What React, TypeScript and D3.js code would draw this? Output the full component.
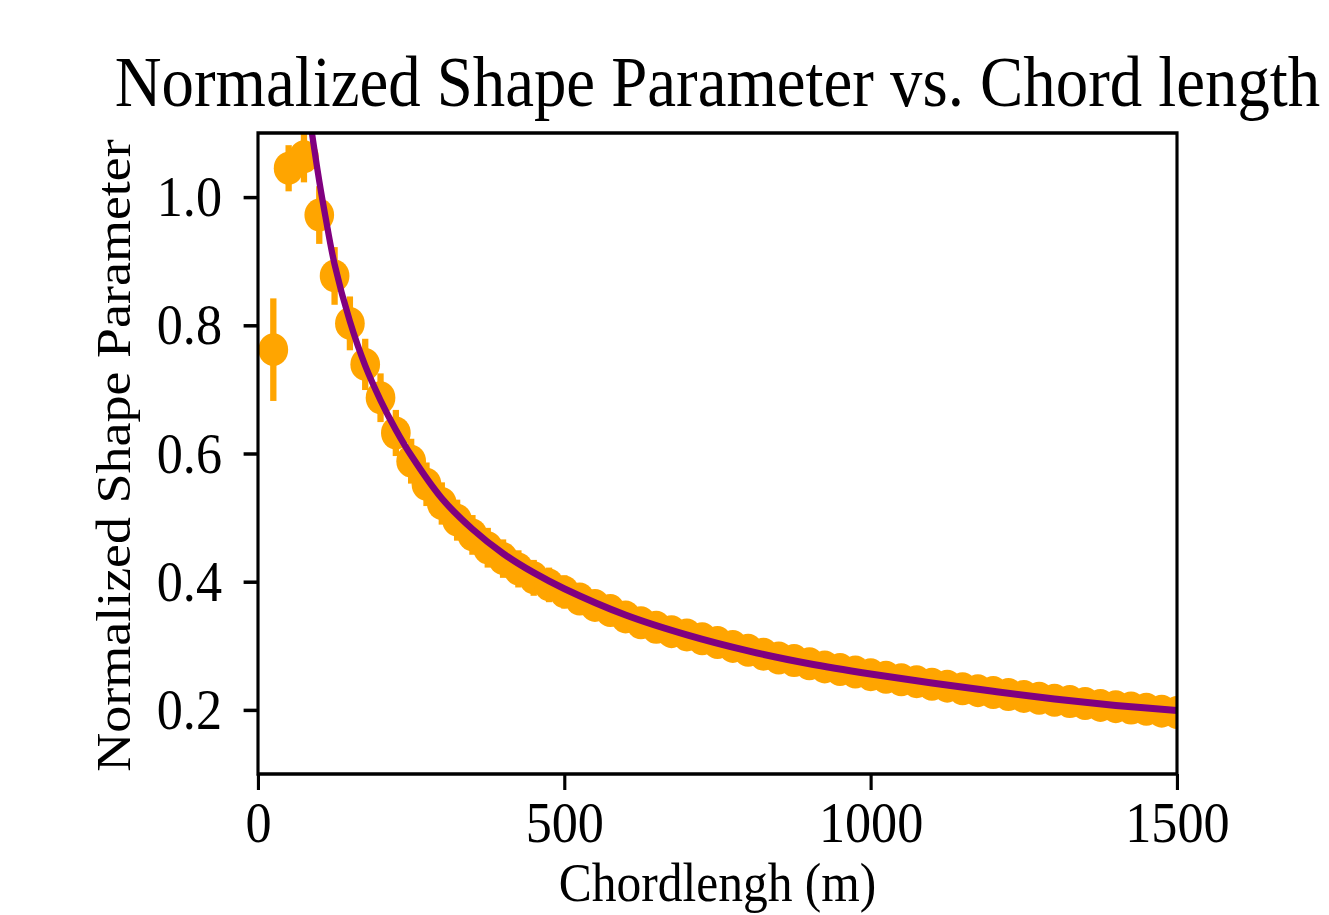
import React, { useEffect, useRef } from 'react';
import { axisBottom, axisLeft, format, line, curveCatmullRom, scaleLinear, select } from 'd3';

// measured points (chord length in m, normalized shape parameter, error)
const chord = [
  25, 50, 75, 100, 125, 150, 175, 200, 225, 250, 275, 300, 325, 350, 375, 400, 425, 450, 475, 500,
  525, 550, 575, 600, 625, 650, 675, 700, 725, 750, 775, 800, 825, 850, 875, 900, 925, 950, 975, 1000,
  1025, 1050, 1075, 1100, 1125, 1150, 1175, 1200, 1225, 1250, 1275, 1300, 1325, 1350, 1375, 1400, 1425, 1450, 1475, 1500,
];
const shape = [
  0.762, 1.045, 1.063, 0.972, 0.877, 0.803, 0.739, 0.687, 0.632, 0.588, 0.552, 0.522, 0.496, 0.473, 0.453, 0.436, 0.42, 0.406, 0.395, 0.384,
  0.373, 0.363, 0.355, 0.345, 0.336, 0.329, 0.322, 0.317, 0.311, 0.305, 0.299, 0.293, 0.287, 0.281, 0.277, 0.272, 0.267, 0.263, 0.259, 0.255,
  0.251, 0.247, 0.244, 0.24, 0.237, 0.233, 0.23, 0.227, 0.224, 0.221, 0.218, 0.215, 0.213, 0.21, 0.207, 0.205, 0.203, 0.201, 0.198, 0.196,
];
const shapeErr = [
  0.08, 0.036, 0.04, 0.045, 0.045, 0.042, 0.04, 0.038, 0.036, 0.035, 0.034, 0.033, 0.032, 0.031, 0.031, 0.03, 0.029, 0.028, 0.027, 0.026,
  0.025, 0.023, 0.022, 0.021, 0.02, 0.019, 0.019, 0.018, 0.018, 0.018, 0.017, 0.017, 0.017, 0.016, 0.016, 0.016, 0.016, 0.015, 0.015, 0.015,
  0.015, 0.015, 0.014, 0.014, 0.014, 0.014, 0.014, 0.014, 0.013, 0.013, 0.013, 0.013, 0.013, 0.013, 0.013, 0.012, 0.012, 0.012, 0.012, 0.012,
];

// fitted curve
const fitX = [88, 100, 110, 125, 150, 175, 200, 225, 250, 300, 350, 400, 450, 500, 600, 700, 800, 900, 1000, 1100, 1200, 1300, 1400, 1500];
const fitY = [1.1, 1.025, 0.97, 0.895, 0.806, 0.737, 0.683, 0.637, 0.597, 0.53, 0.482, 0.444, 0.414, 0.389, 0.348, 0.317, 0.292, 0.272, 0.256, 0.242, 0.229, 0.217, 0.207, 0.199];

const xTicks = [0, 500, 1000, 1500];
const yTicks = [0.2, 0.4, 0.6, 0.8, 1.0];

// the reference is squeezed horizontally
const SX = 0.9;
const W = 1329 / SX;
const H = 915;
const left = 258 / SX;
const right = 1177 / SX;
const top = 133;
const bottom = 774;
const FONT = '"Liberation Serif", "Times New Roman", serif';

const App = () => {
  const svgRef = useRef(null);

  useEffect(() => {
    const svg: any = select(svgRef.current);
    svg.selectAll('*').remove();

    const x = scaleLinear().domain([0, 1500]).range([left, right]);
    const y = scaleLinear().domain([0.1, 1.1]).range([bottom, top]);

    svg
      .append('clipPath')
      .attr('id', 'plot-clip')
      .append('rect')
      .attr('x', left)
      .attr('y', top)
      .attr('width', right - left)
      .attr('height', bottom - top);

    const plot = svg.append('g').attr('clip-path', 'url(#plot-clip)');

    // error bars
    plot
      .selectAll('.err')
      .data(chord)
      .join('line')
      .attr('x1', (d: number) => x(d))
      .attr('x2', (d: number) => x(d))
      .attr('y1', (_: number, i: number) => y(shape[i] - shapeErr[i]))
      .attr('y2', (_: number, i: number) => y(shape[i] + shapeErr[i]))
      .attr('stroke', '#FFA500')
      .attr('stroke-width', 7);

    // markers
    plot
      .selectAll('.pt')
      .data(chord)
      .join('circle')
      .attr('cx', (d: number) => x(d))
      .attr('cy', (_: number, i: number) => y(shape[i]))
      .attr('r', 16.5)
      .attr('fill', '#FFA500');

    // fit
    const fitLine = line<number>()
      .x((d) => x(d))
      .y((_, i) => y(fitY[i]))
      .curve(curveCatmullRom.alpha(0.5));
    plot
      .append('path')
      .attr('d', fitLine(fitX))
      .attr('fill', 'none')
      .attr('stroke', '#800080')
      .attr('stroke-width', 7);

    // axes
    const xAxis = axisBottom(x).tickValues(xTicks).tickSize(16).tickPadding(11).tickFormat(format('d'));
    const gx = svg.append('g').attr('transform', `translate(0,${bottom})`).call(xAxis);
    const yAxis = axisLeft(y).tickValues(yTicks).tickSize(16).tickPadding(24).tickFormat(format('.1f'));
    const gy = svg.append('g').attr('transform', `translate(${left},0)`).call(yAxis);

    [gx, gy].forEach((g) => {
      g.select('.domain').remove();
      g.selectAll('line').attr('stroke', '#000').attr('stroke-width', 3.5);
      g.selectAll('text').attr('fill', '#000').style('font-family', FONT).style('font-size', '58px');
    });

    svg
      .append('rect')
      .attr('x', left)
      .attr('y', top)
      .attr('width', right - left)
      .attr('height', bottom - top)
      .attr('fill', 'none')
      .attr('stroke', '#000')
      .attr('stroke-width', 3.5);

    svg
      .append('text')
      .attr('x', (left + right) / 2)
      .attr('y', 106)
      .attr('text-anchor', 'middle')
      .style('font-family', FONT)
      .style('font-size', '72px')
      .text('Normalized Shape Parameter vs. Chord length');

    svg
      .append('text')
      .attr('x', (left + right) / 2)
      .attr('y', 901)
      .attr('text-anchor', 'middle')
      .style('font-family', FONT)
      .style('font-size', '55px')
      .text('Chordlengh (m)');

    svg
      .append('text')
      .attr('transform', `translate(${130 / SX},${(top + bottom) / 2 + 2}) rotate(-90)`)
      .attr('text-anchor', 'middle')
      .style('font-family', FONT)
      .style('font-size', '54px')
      .text('Normalized Shape Parameter');
  }, []);

  return (
    <div>
      <svg
        ref={svgRef}
        width={1329}
        height={915}
        viewBox={`0 0 ${W} ${H}`}
        preserveAspectRatio='none'
        style={{ position: 'absolute', left: 0, top: 0, background: '#fff' }}
      />
    </div>
  );
};

export default App;
